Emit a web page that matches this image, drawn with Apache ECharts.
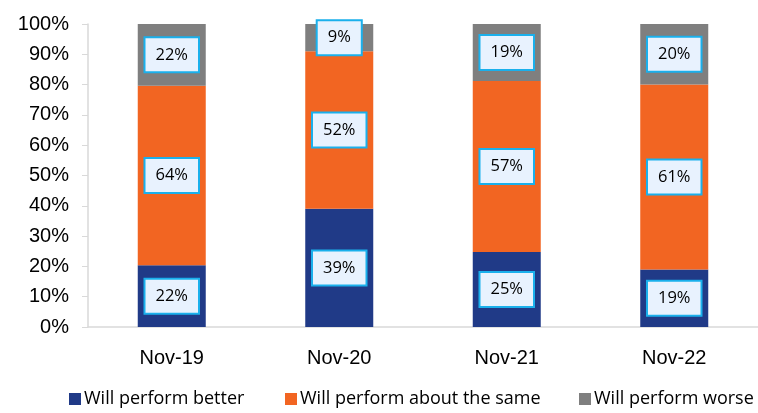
<!DOCTYPE html>
<html><head><meta charset="utf-8">
<script src="https://cdn.jsdelivr.net/npm/echarts@6/dist/echarts.min.js"></script>
<style>html,body{margin:0;padding:0;background:#fff}#c{width:758px;height:413px}</style>
</head><body><div id="c"></div>
<script>
var categories = ['Nov-19','Nov-20','Nov-21','Nov-22'];
var better = [22, 39, 25, 19];
var same = [64, 52, 57, 61];
var worse = [22, 9, 19, 20];
var seriesNames = ['Will perform better', 'Will perform about the same', 'Will perform worse'];
var yTicks = [0,10,20,30,40,50,60,70,80,90,100];

var totals = categories.map(function(_, i){ return better[i] + same[i] + worse[i]; });
function norm(arr){ return arr.map(function(v, i){ return { value: v / totals[i] * 100, raw: v }; }); }

var font = "'Open Sans', 'Liberation Sans', sans-serif";
var axisFont = "'Liberation Sans', Arial, sans-serif";
var labelStyle = {
  show: true, position: 'inside',
  formatter: function(p){ return p.data.raw + '%'; },
  color: '#000', fontSize: 16.5, fontFamily: font,
  backgroundColor: '#E8F2FE', borderColor: '#1AB0EC', borderWidth: 2,
  padding: [8, 10, 8, 10]
};
function series(name, arr, color){
  return { name: name, type: 'bar', stack: 'a', data: norm(arr), barWidth: 68,
    itemStyle: { color: color }, label: labelStyle };
}
var legendLefts = [64, 280, 574];
var legends = seriesNames.map(function(n, i){
  return {
    bottom: 0, left: legendLefts[i], itemWidth: 12, itemHeight: 12, itemGap: 4,
    icon: 'rect', data: [n],
    textStyle: { fontSize: 18, fontFamily: font, color: '#000', padding: [0,0,0,-2] }
  };
});
var chart = echarts.init(document.getElementById('c'));
chart.setOption({
  animation: false,
  grid: { left: 88, top: 24, width: 684, bottom: 86 },
  legend: legends,
  xAxis: {
    type: 'category', data: categories,
    axisLine: { lineStyle: { color: '#D9D9D9', width: 1.5 } },
    axisTick: { show: false },
    axisLabel: { fontSize: 20, fontFamily: axisFont, color: '#000', margin: 21 }
  },
  yAxis: {
    type: 'value', min: 0, max: 100, interval: 10,
    splitLine: { show: false },
    axisLine: { show: true, lineStyle: { color: '#D9D9D9', width: 1.5 } },
    axisTick: { show: true, length: 6, lineStyle: { color: '#D9D9D9' } },
    axisLabel: { fontSize: 20, fontFamily: axisFont, color: '#000', margin: 19,
      formatter: function(v){ return yTicks.indexOf(v) >= 0 ? v + '%' : ''; } }
  },
  series: [
    series(seriesNames[0], better, '#203A87'),
    series(seriesNames[1], same, '#F26522'),
    series(seriesNames[2], worse, '#7F7F7F')
  ]
});
</script></body></html>
